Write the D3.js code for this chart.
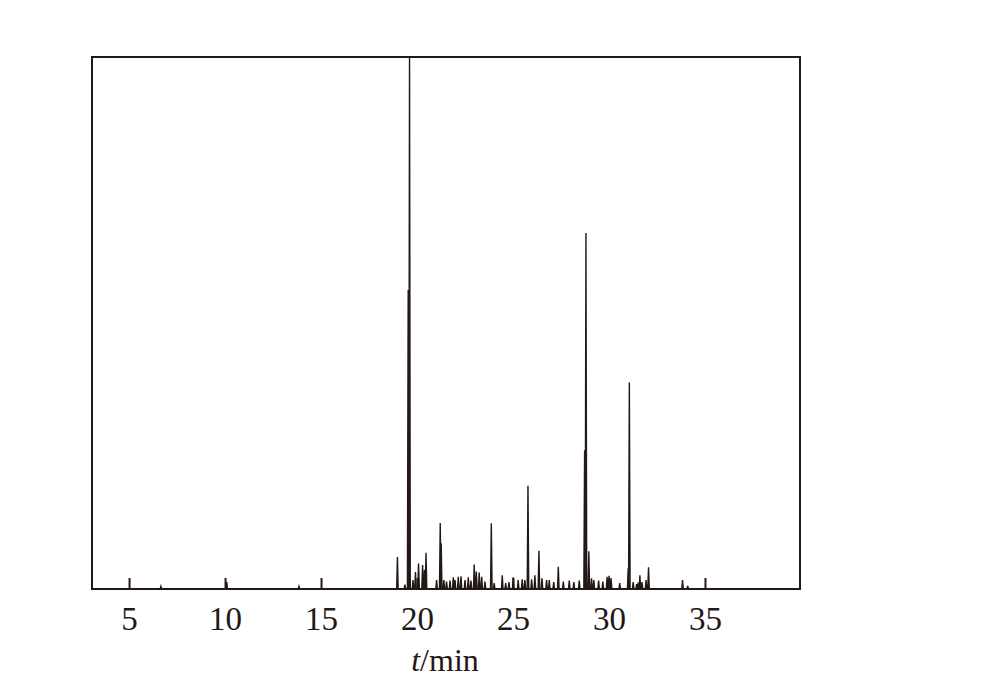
<!DOCTYPE html>
<html>
<head>
<meta charset="utf-8">
<script src="https://cdn.jsdelivr.net/npm/d3@7"></script>
<style>
  html, body { margin: 0; padding: 0; background: #fff; }
  svg { display: block; }
  text { font-family: "Liberation Serif", "Times New Roman", Times, serif; }
</style>
</head>
<body>
<div id="chart"></div>
<script>
// ---- Data ----
// Retention times of peaks (min)
const peakTimes = [
  6.66, 10.09, 13.85,
  18.98, 19.37, 19.54, 19.61, 19.79, 19.92, 20.08, 20.29, 20.39, 20.47,
  21.02, 21.21, 21.26, 21.40, 21.54, 21.72, 21.89, 21.98, 22.15, 22.29,
  22.50, 22.67, 22.81, 22.98, 23.09, 23.24, 23.37, 23.54, 23.87,
  24.02, 24.44, 24.62, 24.79, 25.01, 25.27, 25.48, 25.62, 25.78, 25.97,
  26.14, 26.35, 26.51, 26.75, 26.89, 27.12, 27.36, 27.62, 27.93, 28.17,
  28.45, 28.73, 28.80, 28.95, 29.09, 29.21, 29.46, 29.68, 29.90, 30.00,
  30.11, 30.56, 31.00, 31.06, 31.26, 31.44, 31.52, 31.61, 31.72, 31.93,
  32.06, 33.83, 34.10
];
// Relative intensity (% of full scale)
const peakHeights = [
  0.5, 1.3, 0.5,
  6.0, 0.8, 56.2, 100.5, 1.7, 3.2, 4.8, 4.5, 3.6, 6.8,
  1.7, 12.4, 8.6, 1.7, 1.4, 1.6, 2.2, 1.7, 2.3, 2.4,
  1.7, 2.2, 1.6, 4.6, 3.3, 3.1, 2.3, 1.4, 12.35,
  1.1, 2.6, 1.1, 1.3, 2.2, 1.7, 1.8, 1.7, 19.4, 1.8,
  2.6, 7.2, 2.0, 1.7, 1.7, 1.3, 4.2, 1.4, 1.6, 1.3,
  1.6, 26.1, 66.9, 7.1, 2.0, 1.7, 1.6, 1.4, 2.3, 2.5,
  2.0, 1.1, 3.9, 38.8, 1.3, 0.9, 1.2, 2.6, 1.3, 1.7,
  4.1, 1.7, 0.6
];
// X tick values / labels
const xTicks = [5, 10, 15, 20, 25, 30, 35];
const xTickLabels = ["5", "10", "15", "20", "25", "30", "35"];
const xLabelItalic = "t";
const xLabelRest = "/min";

(function () {
  // ---- Layout ----
  const W = 981, H = 695;
  const mLeft = 92, mRight = 800, mTop = 57, mBottom = 589;
  const ink = "#231815";
  const spikeHalf = 0.04; // visual half-width of a spike (min)

  const svg = d3.select("#chart").append("svg")
    .attr("width", W).attr("height", H)
    .style("background", "#fff");

  const x = d3.scaleLinear().domain([3.07, 39.95]).range([mLeft, mRight]);
  const y = d3.scaleLinear().domain([0, 100]).range([mBottom, mTop]);

  svg.append("defs").append("clipPath").attr("id", "plotclip")
    .append("rect").attr("x", mLeft).attr("y", mTop)
    .attr("width", mRight - mLeft).attr("height", mBottom - mTop);

  // Build trace points from peak list
  const peaks = peakTimes.map((t, i) => ({t, h: peakHeights[i]}))
    .sort((a, b) => a.t - b.t);
  const pts = [[x.domain()[0], 0]];
  peaks.forEach(p => {
    pts.push([p.t - spikeHalf, 0]);
    pts.push([p.t, p.h]);
    pts.push([p.t + spikeHalf, 0]);
  });
  pts.push([x.domain()[1], 0]);

  const line = d3.line().x(d => x(d[0])).y(d => y(d[1]));

  svg.append("path")
    .datum(pts)
    .attr("clip-path", "url(#plotclip)")
    .attr("d", line)
    .attr("fill", "none")
    .attr("stroke", ink)
    .attr("stroke-width", 1.4)
    .attr("stroke-linejoin", "miter");

  // Axis (ticks inward)
  const axis = d3.axisBottom(x)
    .tickValues(xTicks)
    .tickFormat((d, i) => xTickLabels[i])
    .tickSizeInner(-11)
    .tickSizeOuter(0);

  const gx = svg.append("g")
    .attr("transform", `translate(0,${mBottom})`)
    .call(axis);
  gx.attr("font-family", null).attr("font-size", null);
  gx.select(".domain").remove();
  gx.selectAll(".tick line").attr("stroke", ink).attr("stroke-width", 2);
  gx.selectAll(".tick text")
    .attr("dy", null)
    .attr("y", 41)
    .attr("fill", ink)
    .attr("font-size", 33);

  // Frame
  svg.append("rect")
    .attr("x", mLeft).attr("y", mTop)
    .attr("width", mRight - mLeft).attr("height", mBottom - mTop)
    .attr("fill", "none")
    .attr("stroke", ink)
    .attr("stroke-width", 2);

  // X label
  const lbl = svg.append("text")
    .attr("x", (mLeft + mRight) / 2 - 1)
    .attr("y", 671)
    .attr("text-anchor", "middle")
    .attr("fill", ink)
    .attr("font-size", 32);
  lbl.append("tspan").attr("font-style", "italic").text(xLabelItalic);
  lbl.append("tspan").text(xLabelRest);
})();
</script>
</body>
</html>
